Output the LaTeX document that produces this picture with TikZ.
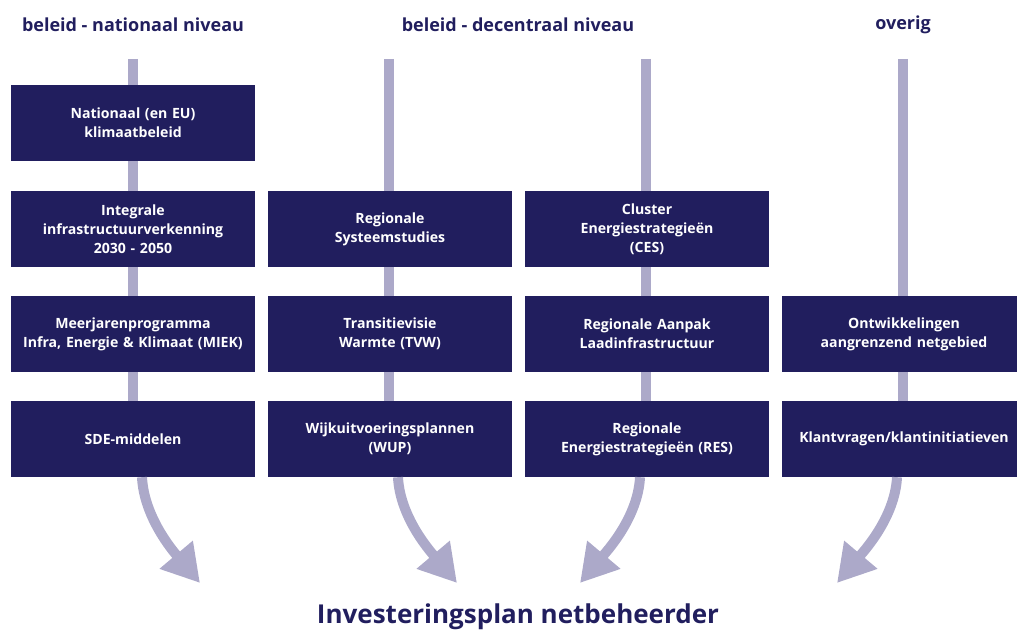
\documentclass[tikz,border=0pt]{standalone}
\usepackage{fontspec}
\setmainfont{Open Sans}[UprightFont=* Bold]
\usetikzlibrary{arrows.meta,backgrounds}
\definecolor{navy}{HTML}{211E5E}
\definecolor{lav}{HTML}{ACA9C9}
\begin{document}
\begin{tikzpicture}[x=1pt,y=1pt,
  box/.style={fill=navy,text=white,minimum width=244pt,minimum height=76pt,
    text width=242pt,align=center,inner sep=0pt,
    font=\fontsize{14.1}{19}\selectfont},
  head/.style={text=navy,font=\fontsize{18}{21}\selectfont},
  spine/.style={draw=lav,line width=10pt},
  flow/.style={draw=lav,line width=10pt,
    -{Triangle[length=37pt,width=41pt]},fill=none}]
\useasboundingbox (0,0) rectangle (1017,632);

% column headings
\node[head] (h1) at (133,607) {beleid - nationaal niveau};
\node[head] (h2) at (518,607) {beleid - decentraal niveau};
\node[head] (h3) at (903,607) {overig};

% national column
\node[box] (b11) at (133,509) {Nationaal (en EU)\\klimaatbeleid};
\node[box] (b12) at (133,403) {Integrale\\infrastructuurverkenning\\2030 - 2050};
\node[box] (b13) at (133,298) {Meerjarenprogramma\\Infra, Energie \& Klimaat (MIEK)};
\node[box] (b14) at (133,193) {SDE-middelen};

% decentral columns
\node[box] (b22) at (390,403) {Regionale\\Systeemstudies};
\node[box] (b23) at (390,298) {Transitievisie\\Warmte (TVW)};
\node[box] (b24) at (390,193) {Wijkuitvoeringsplannen\\(WUP)};

\node[box] (b32) at (647,403) {Cluster\\Energiestrategieën\\(CES)};
\node[box] (b33) at (647,298) {Regionale Aanpak\\Laadinfrastructuur};
\node[box] (b34) at (647,193) {Regionale\\Energiestrategieën (RES)};

% other column
\node[box] (b43) at (904,298) {Ontwikkelingen\\aangrenzend netgebied};
\node[box] (b44) at (904,193) {Klantvragen/klantinitiatieven};

% result
\node[text=navy,font=\fontsize{26}{30}\selectfont] (res) at (518,15) {Investeringsplan netbeheerder};

% spine tops and arrow ends
\coordinate (t1) at (133,573);
\coordinate (t2) at (389,573);
\coordinate (t3) at (646,573);
\coordinate (t4) at (903,573);
\coordinate (e1) at (200,49);
\coordinate (e2) at (457,49);
\coordinate (e3) at (580,49);
\coordinate (e4) at (837,49);

\begin{pgfonlayer}{background}
  \draw[spine] (t1) -- (t1 |- b14.center);
  \draw[spine] (t2) -- (t2 |- b24.center);
  \draw[spine] (t3) -- (t3 |- b34.center);
  \draw[spine] (t4) -- (t4 |- b44.center);
\end{pgfonlayer}

% flows into the investment plan
\draw[flow] ([xshift=9pt]b14.south) .. controls +(2,-40) and +(-27,32) .. (e1);
\draw[flow] ([xshift=8pt]b24.south) .. controls +(2,-40) and +(-27,32) .. (e2);
\draw[flow] ([xshift=-7pt]b34.south) .. controls +(-2,-40) and +(27,32) .. (e3);
\draw[flow] ([xshift=-7pt]b44.south) .. controls +(-2,-40) and +(27,32) .. (e4);
\end{tikzpicture}
\end{document}
